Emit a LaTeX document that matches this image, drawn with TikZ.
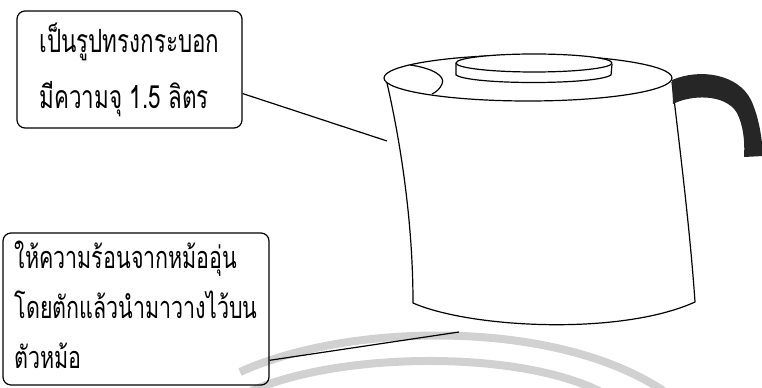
\documentclass[tikz,border=0pt]{standalone}
\usepackage{fontspec}
\usepackage{tikz}
\usepackage{xcolor}
\newfontfamily\thaifont[Script=Thai,FakeStretch=0.7]{Loma}
\tikzstyle{note} = [rectangle, rounded corners=6pt, draw=black, line width=0.9pt, align=left, inner sep=0pt]
\tikzstyle{pen} = [line width=0.9pt, line join=round]
\tikzstyle{wmark} = [line width=6pt, draw=black!18]

\begin{document}
\begin{tikzpicture}[x=0.75pt,y=-0.75pt]
\useasboundingbox (0,0) rectangle (762,388);
\clip (0,0) rectangle (762,388);

% faint arcs in the background
\draw [wmark] (240,372) .. controls (350,322) and (560,318) .. (668,394);
\draw [wmark] (245,394) .. controls (330,352) and (520,348) .. (605,394);

% kettle body
\draw [pen] (387,83) .. controls (400,140) and (413,220) .. (413,303)
  .. controls (470,328) and (620,336) .. (695,302)
  .. controls (690,230) and (680,150) .. (672,82);
\draw [pen] (528,78) ellipse [x radius=144, y radius=23];
% spout
\draw [pen] (410,65) .. controls (432,68) and (446,76) .. (442,84) .. controls (440,89) and (436,92) .. (432,94);
% lid
\draw [pen, fill=white] (534,63) ellipse [x radius=78, y radius=9];
\draw [pen] (456,63) -- (456,75) .. controls (470,85) and (596,85) .. (611,75) -- (612,64);
% handle
\fill [black!85] (672,80) .. controls (700,68) and (738,74) .. (751,100)
  .. controls (758,115) and (762,135) .. (763,156) -- (744,157)
  .. controls (745,140) and (743,125) .. (737,113)
  .. controls (725,93) and (690,95) .. (673,104) -- cycle;

\node (tank) [note, minimum width=168.75pt, minimum height=87.75pt,
  font=\thaifont\fontsize{24pt}{42pt}\selectfont] at (129.5,69.5)
  {เป็นรูปทรงกระบอก\\มีความจุ 1.5 ลิตร};
\node (heat) [note, minimum width=199.5pt, minimum height=114pt,
  font=\thaifont\fontsize{23pt}{37.5pt}\selectfont] at (136,309)
  {ให้ความร้อนจากหม้ออุ่น\\โดยตักแล้วนำมาวางไว้บน\\ตัวหม้อ\rule[-7pt]{0pt}{0pt}};

\coordinate (side) at (387,141);
\coordinate (base) at (459,332);
\draw [pen] (tank.-12) -- (side);
\draw [pen] (heat.-21) -- (base);
\end{tikzpicture}
\end{document}
